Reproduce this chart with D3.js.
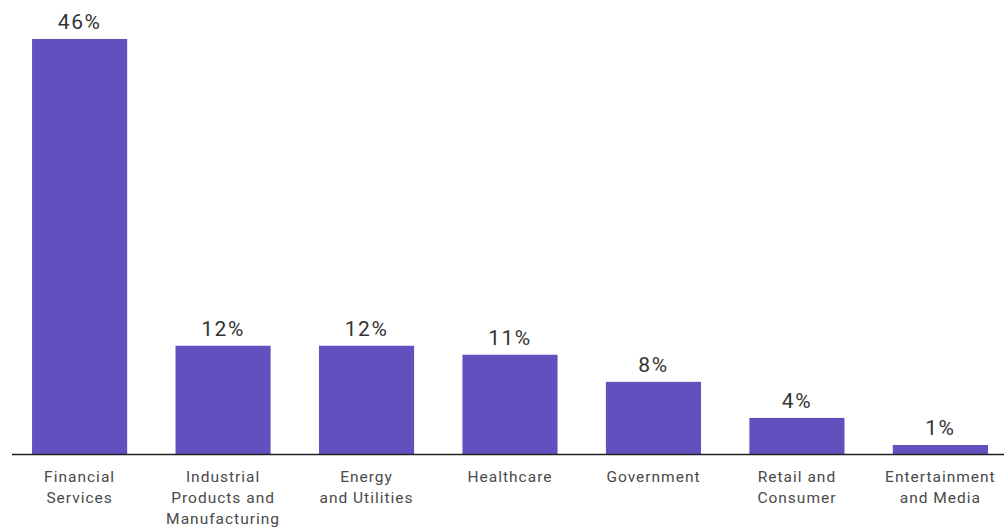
<!DOCTYPE html>
<html>
<head>
<meta charset="utf-8">
<script src="https://cdn.jsdelivr.net/npm/d3@7"></script>
<style>
  body { margin: 0; background: #fff; }
  svg { display: block; font-family: Roboto, "Noto Sans", sans-serif; }
</style>
</head>
<body>
<div id="chart"></div>
<script>
// category labels, split into lines as in the picture
const categories = [
  ['Financial', 'Services'],
  ['Industrial', 'Products and', 'Manufacturing'],
  ['Energy', 'and Utilities'],
  ['Healthcare'],
  ['Government'],
  ['Retail and', 'Consumer'],
  ['Entertainment', 'and Media']
];
const values = [46, 12, 12, 11, 8, 4, 1];

const w = 1004;
const h = 529;
const baseline = 454;

const svg = d3.select('#chart')
  .append('svg')
  .attr('width', w)
  .attr('height', h);

/* scales */
const xScale = d3.scaleBand()
  .domain(d3.range(values.length))
  .range([17.7, 1002.3])
  .paddingInner(0.337)
  .paddingOuter(0.1);

const yScale = d3.scaleLinear()
  .domain([0, 46])
  .range([baseline, 39]);

/* bars */
svg.append('g')
  .selectAll('rect')
  .data(values)
  .join('rect')
  .attr('x', (d, i) => xScale(i))
  .attr('y', d => yScale(d))
  .attr('width', xScale.bandwidth())
  .attr('height', d => baseline - yScale(d))
  .attr('fill', '#6151bf');

/* value labels */
svg.append('g')
  .selectAll('text')
  .data(values)
  .join('text')
  .attr('x', (d, i) => xScale(i) + xScale.bandwidth() / 2)
  .attr('y', d => yScale(d) - 10)
  .attr('text-anchor', 'middle')
  .attr('font-size', 21)
  .attr('letter-spacing', 1.5)
  .attr('fill', '#333')
  .text(d => d + '%');

/* axis line */
svg.append('line')
  .attr('x1', 12)
  .attr('x2', w)
  .attr('y1', baseline + 0.5)
  .attr('y2', baseline + 0.5)
  .attr('stroke', '#222')
  .attr('stroke-width', 1.5);

/* category labels */
svg.append('g')
  .selectAll('text')
  .data(categories)
  .join('text')
  .attr('x', (d, i) => xScale(i) + xScale.bandwidth() / 2)
  .attr('y', 482)
  .attr('text-anchor', 'middle')
  .attr('font-size', 15.5)
  .attr('letter-spacing', 1)
  .attr('fill', '#4a4a4a')
  .each(function (lines, i) {
    const x = xScale(i) + xScale.bandwidth() / 2;
    d3.select(this).selectAll('tspan')
      .data(lines)
      .join('tspan')
      .attr('x', x)
      .attr('dy', (l, j) => j === 0 ? 0 : 21)
      .text(l => l);
  });
</script>
</body>
</html>
